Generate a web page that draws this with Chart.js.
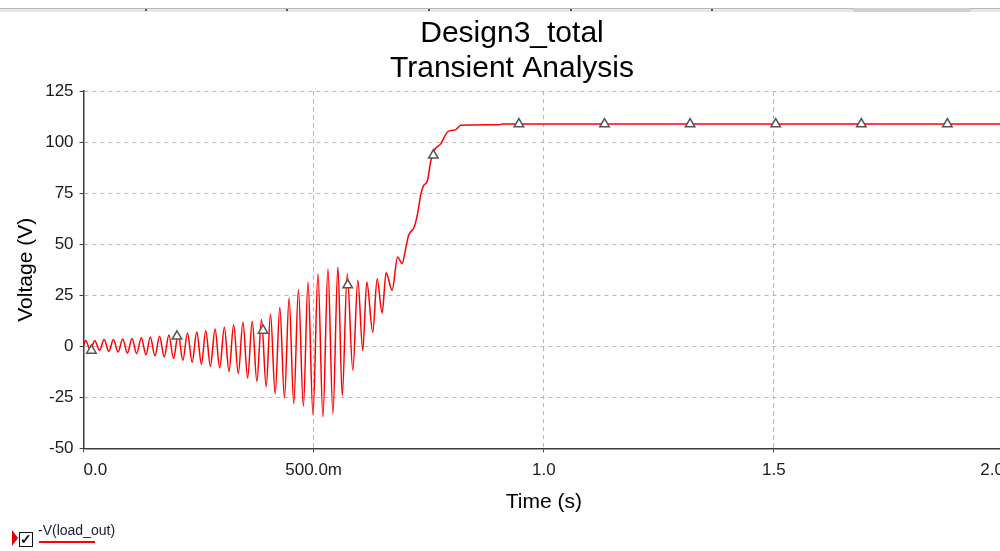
<!DOCTYPE html>
<html>
<head>
<meta charset="utf-8">
<script src="https://cdn.jsdelivr.net/npm/chart.js@4.4.0/dist/chart.umd.min.js"></script>
<style>
    html, body { margin: 0; padding: 0; background: #ffffff; overflow: hidden; width: 1000px; height: 551px; }
    #wrap { position: relative; width: 1000px; height: 551px; overflow: hidden; }
    #plot { position: absolute; left: 0; top: 0; }
    .topbar { position: absolute; left: 0; top: 8px; width: 1000px; height: 3px; background: #e6e6e6; border-top: 1px solid #b8b8b8; }
    .topbar .seg { position: absolute; top: -1px; left: 853px; width: 117px; height: 4px; background: #cfcfcf; }
    .topbar .tk { position: absolute; top: 0; width: 2px; height: 2px; background: #555; }
    .legend { position: absolute; left: 0; top: 520px; height: 30px; font-family: 'Liberation Sans', Arial, sans-serif; }
    .legend .arrow { position: absolute; left: 12px; top: 10px; width: 0; height: 0; border-top: 8px solid transparent; border-bottom: 8px solid transparent; border-left: 6px solid #e00000; }
    .legend .box { position: absolute; left: 19px; top: 12px; width: 12px; height: 13px; border: 1.5px solid #111; font-size: 14px; line-height: 13px; text-align: center; font-weight: bold; color: #111; }
    .legend .name { position: absolute; left: 38px; top: 2px; font-size: 14px; color: #1b1b3a; white-space: nowrap; }
    .legend .swatch { position: absolute; left: 39px; top: 21px; width: 56px; height: 2px; background: #ff0000; }
</style>
</head>
<body>
<div id="wrap">
    <div class="topbar">
        <div class="seg"></div>
        <div class="tk" style="left:145px"></div>
        <div class="tk" style="left:286px"></div>
        <div class="tk" style="left:428px"></div>
        <div class="tk" style="left:570px"></div>
        <div class="tk" style="left:711px"></div>
    </div>
    <canvas id="plot" width="1012" height="551"></canvas>
    <div class="legend">
        <div class="arrow"></div>
        <div class="box">&#10003;</div>
        <div class="name">-V(load_out)</div>
        <div class="swatch"></div>
    </div>
</div>
<script>
// values (time in s, voltage in V)
const timeS = [
    0.0000, 0.0043, 0.0144, 0.0245, 0.0346, 0.0447, 0.0548, 0.0649, 0.0750, 0.0851,
    0.0952, 0.1053, 0.1154, 0.1255, 0.1356, 0.1450, 0.1551, 0.1652, 0.1753, 0.1854,
    0.1955, 0.2056, 0.2157, 0.2258, 0.2359, 0.2460, 0.2561, 0.2655, 0.2756, 0.2857,
    0.2958, 0.3059, 0.3160, 0.3261, 0.3362, 0.3463, 0.3564, 0.3665, 0.3766, 0.3867,
    0.3968, 0.4062, 0.4163, 0.4264, 0.4365, 0.4466, 0.4567, 0.4668, 0.4776, 0.4877,
    0.4985, 0.5093, 0.5201, 0.5310, 0.5418, 0.5526, 0.5621, 0.5729, 0.5851, 0.5959,
    0.6067, 0.6154, 0.6284, 0.6379, 0.6487, 0.6574, 0.6703, 0.6825, 0.6920, 0.7006,
    0.7063, 0.7186, 0.7258, 0.7331, 0.7381, 0.7474, 0.7548, 0.7619, 0.7764, 0.7907,
    0.8089, 0.8197, 0.9026, 0.9100, 2.0000
];
const voltV = [
    0.5, 2.9, -1.6, 2.8, -2.0, 3.3, -2.5, 3.3, -2.8, 3.6,
    -3.3, 3.9, -3.6, 4.2, -4.1, 4.6, -4.6, 4.9, -5.2, 5.6,
    -6.0, 6.2, -6.9, 6.5, -7.8, 7.0, -8.7, 7.7, -9.8, 8.5,
    -10.6, 9.3, -12.3, 10.6, -13.4, 11.8, -15.5, 12.3, -17.2, 13.1,
    -19.9, 15.8, -23.2, 19.1, -25.3, 23.7, -28.1, 27.8, -29.4, 31.5,
    -33.5, 35.6, -34.5, 37.9, -33.0, 38.9, -24.2, 35.6, -11.8, 32.4,
    -2.0, 31.5, 6.9, 33.0, 16.3, 36.0, 27.5, 43.8, 40.5, 48.7,
    54.4, 58.5, 65.0, 74.8, 78.4, 81.4, 91.2, 96.0, 99.3, 105.0,
    106.2, 108.3, 108.6, 108.9, 108.9
];

// triangle markers on the trace
const markerT = [0.017, 0.203, 0.390, 0.574, 0.760, 0.946, 1.132, 1.318, 1.504, 1.690, 1.877];
const markerV = [-2.0, 4.9, 7.8, 30.0, 93.6, 108.9, 108.9, 108.9, 108.9, 108.9, 108.9];

const xTickLabels = { 0: '0.0', 0.5: '500.0m', 1: '1.0', 1.5: '1.5', 2: '2.0' };

const fontFamily = "'Liberation Sans', Arial, sans-serif";
const gridGrey = '#b4b4b4';
const axisGrey = '#3c3c3c';

const tracePoints = timeS.map((t, i) => ({ x: t, y: voltV[i] }));
const markerPoints = markerT.map((t, i) => ({ x: t, y: markerV[i] }));

const ctx = document.getElementById('plot').getContext('2d');
new Chart(ctx, {
    type: 'scatter',
    data: {
        datasets: [{
            label: 'markers',
            data: markerPoints,
            showLine: false,
            pointStyle: 'triangle',
            pointRadius: 5.5,
            pointBorderWidth: 1.5,
            pointBorderColor: '#555555',
            pointBackgroundColor: '#ffffff',
            order: 0
        }, {
            label: '-V(load_out)',
            data: tracePoints,
            showLine: true,
            borderColor: '#ff0000',
            borderWidth: 1.5,
            pointRadius: 0,
            cubicInterpolationMode: 'monotone',
            order: 1
        }]
    },
    options: {
        responsive: false,
        animation: false,
        events: [],
        layout: { padding: { left: 14, right: 2, top: 0, bottom: 36 } },
        plugins: {
            legend: { display: false },
            tooltip: { enabled: false },
            title: {
                display: true,
                text: ['Design3_total', 'Transient Analysis'],
                color: '#000000',
                font: { family: fontFamily, size: 30, weight: 'normal', lineHeight: 1.17 },
                padding: { top: 16, bottom: 5 }
            }
        },
        scales: {
            x: {
                type: 'linear',
                min: 0,
                max: 2,
                border: { display: true, color: axisGrey, width: 1.5, dash: [4, 4] },
                grid: {
                    color: (c) => (c.tick && c.tick.value === 0 ? 'rgba(0,0,0,0)' : gridGrey),
                    tickColor: axisGrey,
                    tickLength: 4,
                    tickBorderDash: []
                },
                ticks: {
                    stepSize: 0.5,
                    align: 'inner',
                    padding: 8,
                    maxRotation: 0,
                    color: '#1a1a1a',
                    font: { family: fontFamily, size: 17 },
                    callback: (v) => xTickLabels[v] !== undefined ? xTickLabels[v] : ''
                },
                title: {
                    display: true,
                    text: 'Time (s)',
                    color: '#000000',
                    font: { family: fontFamily, size: 21 },
                    padding: { top: 1, bottom: 0 }
                }
            },
            y: {
                type: 'linear',
                min: -50,
                max: 125,
                border: { display: true, color: axisGrey, width: 1.5, dash: [4, 4] },
                grid: {
                    color: gridGrey,
                    tickColor: axisGrey,
                    tickLength: 4,
                    tickBorderDash: []
                },
                ticks: {
                    stepSize: 25,
                    padding: 6,
                    color: '#1a1a1a',
                    font: { family: fontFamily, size: 17 }
                },
                title: {
                    display: true,
                    text: 'Voltage (V)',
                    color: '#000000',
                    font: { family: fontFamily, size: 21 },
                    padding: { top: 0, bottom: 0 }
                }
            }
        }
    }
});
</script>
</body>
</html>
